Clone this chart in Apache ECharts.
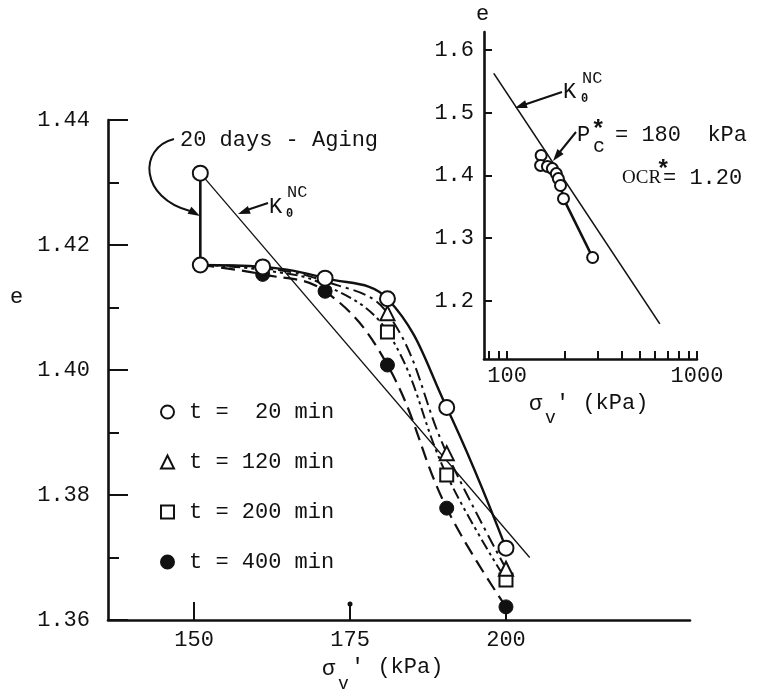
<!DOCTYPE html>
<html>
<head>
<meta charset="utf-8">
<script src="https://cdn.jsdelivr.net/npm/echarts@6/dist/echarts.min.js"></script>
<style>
  html, body { margin: 0; padding: 0; background: #fff; }
  #chart { width: 761px; height: 693px; }
</style>
</head>
<body>
<div id="chart"></div>
<script>
// Void ratio e versus vertical effective stress during reloading after aging.
const sigma = [151, 161, 171, 181, 190.5, 200];           // sigma_v' (kPa)
const e20  = [1.4168, 1.4165, 1.4147, 1.4114, 1.3940, 1.3715];
const e120 = [1.4168, 1.4163, 1.4142, 1.4091, 1.3867, 1.3682];
const e200 = [1.4168, 1.4160, 1.4136, 1.4061, 1.3832, 1.3664];
const e400 = [1.4168, 1.4153, 1.4126, 1.4008, 1.3779, 1.3621];
const seriesNames = ['t =  20 min', 't = 120 min', 't = 200 min', 't = 400 min'];

// 20 days of aging at constant stress
const agingSigma = [151, 151];
const agingE = [1.4315, 1.4168];

// K0 normally consolidated line (main plot)
const k0Sigma = [151, 203.8];
const k0E = [1.4315, 1.370];

// Inset: e - log sigma_v'
const insetSigma = [151, 150, 163, 173, 181.5, 186, 191, 198, 282];
const insetE = [1.432, 1.416, 1.4144, 1.411, 1.403, 1.395, 1.384, 1.363, 1.269];
const insetK0Sigma = [85, 637];
const insetK0E = [1.563, 1.163];

// Tick values
const mainXTicks = [150, 175, 200];
const insetXTicks = [80, 90, 100, 200, 300, 400, 500, 600, 700, 800, 900, 1000];
const insetXLabels = [100, 1000];
const insetYTicks = [1.2, 1.3, 1.4, 1.5, 1.6];

const zip = (xs, ys) => xs.map((x, i) => [x, ys[i]]);

const FONT = '"Liberation Mono", monospace';
const INK = '#111';

const chart = echarts.init(document.getElementById('chart'), null, { renderer: 'canvas' });

const openMarker = { color: '#fff', borderColor: INK, borderWidth: 2, opacity: 1 };
const curveStyles = [
  { type: 'solid', width: 2.4 },
  { type: [13, 5, 3, 5], width: 2 },
  { type: [11, 4, 3, 4, 3, 4], width: 2 },
  { type: [14, 7], width: 2.2 }
];
const curveData = [e20, e120, e200, e400];

const series = [];

// fitted curves
curveData.forEach((ev, i) => {
  series.push({
    type: 'line', xAxisIndex: 0, yAxisIndex: 0,
    data: zip(sigma, ev), smooth: 0.4,
    showSymbol: false, silent: true, z: 2,
    lineStyle: { color: INK, width: curveStyles[i].width, type: curveStyles[i].type }
  });
});

// aging step and K0 line
series.push({
  type: 'line', xAxisIndex: 0, yAxisIndex: 0, data: zip(agingSigma, agingE),
  showSymbol: false, silent: true, z: 2, lineStyle: { color: INK, width: 2.6 }
});
series.push({
  type: 'line', xAxisIndex: 0, yAxisIndex: 0, data: zip(k0Sigma, k0E),
  showSymbol: false, silent: true, z: 2, lineStyle: { color: INK, width: 1.3 }
});

// measured points
series.push({
  name: seriesNames[3], type: 'scatter', xAxisIndex: 0, yAxisIndex: 0,
  data: zip(sigma, e400).slice(1), symbol: 'circle', symbolSize: 14, z: 3,
  itemStyle: { color: INK, borderColor: INK, borderWidth: 1, opacity: 1 }
});
series.push({
  name: seriesNames[2], type: 'scatter', xAxisIndex: 0, yAxisIndex: 0,
  data: zip(sigma, e200).slice(3), symbol: 'rect', symbolSize: 13, z: 4,
  itemStyle: openMarker
});
series.push({
  name: seriesNames[1], type: 'scatter', xAxisIndex: 0, yAxisIndex: 0,
  data: zip(sigma, e120).slice(3), symbol: 'triangle', symbolSize: 14, z: 5,
  itemStyle: openMarker
});
series.push({
  name: seriesNames[0], type: 'scatter', xAxisIndex: 0, yAxisIndex: 0,
  data: zip(sigma, e20).concat([[agingSigma[0], agingE[0]]]), symbol: 'circle', symbolSize: 15, z: 6,
  itemStyle: openMarker
});

// inset
series.push({
  type: 'line', xAxisIndex: 1, yAxisIndex: 1, data: zip(insetK0Sigma, insetK0E),
  showSymbol: false, silent: true, z: 2, lineStyle: { color: INK, width: 1.6 }
});
series.push({
  type: 'line', xAxisIndex: 1, yAxisIndex: 1, data: zip(insetSigma, insetE),
  symbol: 'circle', symbolSize: 11, showSymbol: true, silent: true, z: 3,
  lineStyle: { color: INK, width: 2.6 },
  itemStyle: { color: '#fff', borderColor: INK, borderWidth: 2, opacity: 1 }
});

const axisText = { color: INK, fontFamily: FONT, fontSize: 22 };
const mainTickStyle = { show: true, inside: true, length: 18, lineStyle: { color: INK, width: 2 }, customValues: mainXTicks };

const option = {
  animation: false,
  backgroundColor: '#fff',
  grid: [
    { left: 108, top: 120, width: 582, height: 500 },
    { left: 484, top: 32, width: 213, height: 327 }
  ],
  xAxis: [
    {
      type: 'value', gridIndex: 0, position: 'bottom', min: 136.2, max: 229.5,
      axisLine: { show: true, lineStyle: { color: INK, width: 2.6 } },
      axisTick: mainTickStyle,
      axisLabel: { ...axisText, margin: 9, customValues: mainXTicks },
      splitLine: { show: false }
    },
    {
      type: 'log', logBase: 10, gridIndex: 1, min: 75.5, max: 1000,
      axisLine: { show: true, lineStyle: { color: INK, width: 2.6 } },
      axisTick: { show: true, inside: true, length: 8, lineStyle: { color: INK, width: 2 }, customValues: insetXTicks },
      axisLabel: { ...axisText, margin: 6, customValues: insetXLabels, formatter: v => String(Math.round(v)) },
      splitLine: { show: false }, minorTick: { show: false }
    },
    {
      // tick marks of the main stress axis
      type: 'value', gridIndex: 0, position: 'bottom', min: 136.2, max: 229.5,
      axisLine: { show: false }, axisLabel: { show: false },
      axisTick: mainTickStyle, splitLine: { show: false }
    }
  ],
  yAxis: [
    {
      type: 'value', gridIndex: 0, min: 1.36, max: 1.44, interval: 0.02,
      axisLine: { show: true, lineStyle: { color: INK, width: 2.6 } },
      axisTick: { show: true, inside: true, length: 20, lineStyle: { color: INK, width: 2 } },
      minorTick: { show: true, splitNumber: 2, length: 11, lineStyle: { color: INK, width: 2 } },
      axisLabel: { ...axisText, margin: 18, formatter: v => v.toFixed(2) },
      splitLine: { show: false }
    },
    {
      type: 'value', gridIndex: 1, min: 1.107, max: 1.629,
      axisLine: { show: true, lineStyle: { color: INK, width: 2.6 } },
      axisTick: { show: true, inside: true, length: 8, lineStyle: { color: INK, width: 2 }, customValues: insetYTicks },
      axisLabel: { ...axisText, margin: 10, customValues: insetYTicks, formatter: v => v.toFixed(1) },
      splitLine: { show: false }
    }
  ],
  legend: {
    orient: 'vertical', left: 155, top: 396, itemGap: 28,
    itemWidth: 13, itemHeight: 13, selectedMode: false,
    data: [
      { name: seriesNames[0], icon: 'circle', itemStyle: { borderWidth: 2 } },
      { name: seriesNames[1], icon: 'triangle', itemStyle: { borderWidth: 2 } },
      { name: seriesNames[2], icon: 'rect', itemStyle: { borderWidth: 2 } },
      { name: seriesNames[3], icon: 'circle' }
    ],
    textStyle: { color: INK, fontFamily: FONT, fontSize: 22, padding: [0, 0, 0, 10] }
  },
  series: series,
  graphic: [
    // axis names
    { type: 'text', style: { text: 'e', x: 10, y: 297, font: '22px ' + FONT, fill: INK, textVerticalAlign: 'middle' } },
    { type: 'text', style: { text: 'σ', x: 322, y: 669, font: '22px ' + FONT, fill: INK, textVerticalAlign: 'middle' } },
    { type: 'text', style: { text: 'v', x: 338, y: 684, font: '18px ' + FONT, fill: INK, textVerticalAlign: 'middle' } },
    { type: 'text', style: { text: "' (kPa)", x: 351, y: 667, font: '22px ' + FONT, fill: INK, textVerticalAlign: 'middle' } },
    { type: 'text', style: { text: 'e', x: 476, y: 14, font: '22px ' + FONT, fill: INK, textVerticalAlign: 'middle' } },
    { type: 'text', style: { text: 'σ', x: 529, y: 404, font: '22px ' + FONT, fill: INK, textVerticalAlign: 'middle' } },
    { type: 'text', style: { text: 'v', x: 545, y: 418, font: '18px ' + FONT, fill: INK, textVerticalAlign: 'middle' } },
    { type: 'text', style: { text: "' (kPa)", x: 556, y: 403, font: '22px ' + FONT, fill: INK, textVerticalAlign: 'middle' } },

    // aging annotation
    { type: 'text', style: { text: '20 days - Aging', x: 180, y: 140, font: '22px ' + FONT, fill: INK, textVerticalAlign: 'middle' } },
    { type: 'bezierCurve', shape: { x1: 174, y1: 139, cpx1: 138, cpy1: 148, cpx2: 140, cpy2: 198, x2: 190, y2: 211 }, style: { stroke: INK, lineWidth: 2, fill: null } },
    { type: 'polygon', shape: { points: [[200, 216], [187.6, 213.8], [191.4, 206.8]] }, style: { fill: INK } },

    // K0 label, main plot
    { type: 'line', shape: { x1: 268, y1: 203, x2: 247, y2: 210 }, style: { stroke: INK, lineWidth: 2 } },
    { type: 'polygon', shape: { points: [[238, 214], [247.9, 206.1], [250.7, 213.7]] }, style: { fill: INK } },
    { type: 'text', style: { text: 'K', x: 269, y: 207, font: '22px ' + FONT, fill: INK, textVerticalAlign: 'middle' } },
    { type: 'text', style: { text: '0', x: 286, y: 214, font: 'bold 12px ' + FONT, fill: INK, textVerticalAlign: 'middle' } },
    { type: 'text', style: { text: 'NC', x: 287, y: 192, font: '17px ' + FONT, fill: INK, textVerticalAlign: 'middle' } },

    // K0 label, inset
    { type: 'line', shape: { x1: 562, y1: 92, x2: 525, y2: 104.5 }, style: { stroke: INK, lineWidth: 2 } },
    { type: 'polygon', shape: { points: [[515, 108], [525.1, 100.3], [527.7, 107.9]] }, style: { fill: INK } },
    { type: 'text', style: { text: 'K', x: 563, y: 92, font: '22px ' + FONT, fill: INK, textVerticalAlign: 'middle' } },
    { type: 'text', style: { text: '0', x: 581, y: 99, font: 'bold 12px ' + FONT, fill: INK, textVerticalAlign: 'middle' } },
    { type: 'text', style: { text: 'NC', x: 582, y: 78, font: '17px ' + FONT, fill: INK, textVerticalAlign: 'middle' } },

    // preconsolidation pressure
    { type: 'line', shape: { x1: 576, y1: 132, x2: 559, y2: 153 }, style: { stroke: INK, lineWidth: 2 } },
    { type: 'polygon', shape: { points: [[553, 161], [557.4, 149.1], [563.6, 154.1]] }, style: { fill: INK } },
    { type: 'text', style: { text: 'P', x: 577, y: 135, font: '22px ' + FONT, fill: INK, textVerticalAlign: 'middle' } },
    { type: 'text', style: { text: '*', x: 591, y: 131, font: 'bold 24px ' + FONT, fill: INK, textVerticalAlign: 'middle' } },
    { type: 'text', style: { text: 'c', x: 593, y: 147, font: '20px ' + FONT, fill: INK, textVerticalAlign: 'middle' } },
    { type: 'text', style: { text: '= 180  kPa', x: 615, y: 135, font: '22px ' + FONT, fill: INK, textVerticalAlign: 'middle' } },

    // overconsolidation ratio
    { type: 'text', style: { text: 'OCR', x: 622, y: 178, font: '19px "Liberation Serif", serif', fill: INK, textVerticalAlign: 'middle' } },
    { type: 'text', style: { text: '*', x: 656, y: 171, font: 'bold 24px ' + FONT, fill: INK, textVerticalAlign: 'middle' } },
    { type: 'text', style: { text: '= 1.20', x: 663, y: 178, font: '22px ' + FONT, fill: INK, textVerticalAlign: 'middle' } },

    // pin mark on the 175 tick
    { type: 'circle', shape: { cx: 350, cy: 604, r: 2.5 }, style: { fill: INK } }
  ]
};

chart.setOption(option);
</script>
</body>
</html>
